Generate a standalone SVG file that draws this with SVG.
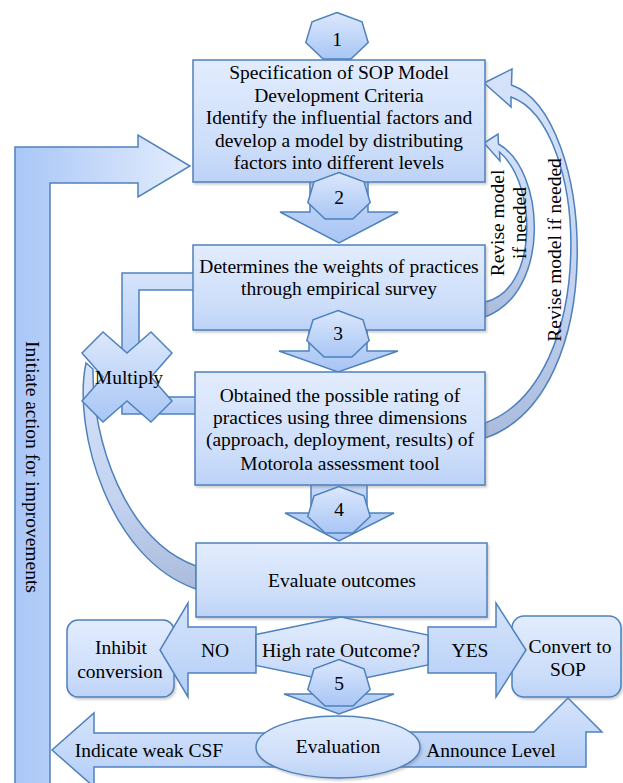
<svg xmlns="http://www.w3.org/2000/svg" xmlns:xlink="http://www.w3.org/1999/xlink" width="623" height="783" viewBox="0 0 623 783">
<style>
.s{stroke:#4f81bd;stroke-width:1.5;stroke-linejoin:miter}
.box{fill:url(#boxG);filter:url(#sh)}
.hep{fill:url(#hepG)}
.dn{fill:url(#dnG)}
.cr{fill:url(#crG)}
.blk{fill:url(#blkG)}
.t{font-family:"Liberation Serif","Times New Roman",serif;font-size:19.5px;fill:#000;text-anchor:middle;dominant-baseline:central}
</style>
<defs>
<linearGradient id="boxG" x1="0" y1="0" x2="0" y2="1"><stop offset="0" stop-color="#e2ecfd"/><stop offset="0.7" stop-color="#cddefa"/><stop offset="1" stop-color="#bcd2f7"/></linearGradient>
<linearGradient id="hepG" x1="0" y1="0" x2="0" y2="1"><stop offset="0" stop-color="#dce8fc"/><stop offset="1" stop-color="#a9c6f5"/></linearGradient>
<linearGradient id="dnG" x1="0" y1="0" x2="0" y2="1"><stop offset="0" stop-color="#c9dbf9"/><stop offset="1" stop-color="#a8c5f4"/></linearGradient>
<linearGradient id="blkG" x1="0" y1="0" x2="0" y2="1"><stop offset="0" stop-color="#d6e4fb"/><stop offset="1" stop-color="#b3cdf7"/></linearGradient>
<linearGradient id="crG" x1="0" y1="0" x2="0" y2="1"><stop offset="0" stop-color="#d6e3fa"/><stop offset="0.6" stop-color="#c3d3f0"/><stop offset="1" stop-color="#aabbdc"/></linearGradient>
<linearGradient id="initG" gradientUnits="userSpaceOnUse" x1="15" y1="0" x2="190" y2="0"><stop offset="0" stop-color="#a9c7f7"/><stop offset="0.2" stop-color="#b5cef8"/><stop offset="1" stop-color="#e3edfd"/></linearGradient>
<filter id="sh" x="-5%" y="-5%" width="115%" height="120%"><feDropShadow dx="1.5" dy="2" stdDeviation="1.2" flood-color="#777" flood-opacity="0.35"/></filter>
<polygon id="hept" points="0,-24.5 25,-15.3 31.2,5.5 13.9,22.1 -13.9,22.1 -31.2,5.5 -25,-15.3"/>
</defs>

<g id="inhibit">
<rect class="s box" x="67" y="620" width="107" height="77" rx="11"/>
<text class="t" x="121" y="647">Inhibit</text>
<text class="t" x="120" y="671">conversion</text>
</g>
<g id="convert">
<rect class="s box" x="512" y="616" width="109" height="81" rx="12"/>
<text class="t" x="570" y="646">Convert to</text>
<text class="t" x="568" y="669">SOP</text>
</g>

<g id="connectors">
<path class="s" fill="url(#initG)" d="M15,790 L15,147 L138,147 L138,135 L190,166 L138,197 L138,183 L50,183 L50,790 Z"/>
<path class="s blk" d="M195,273 L122,273 L122,360 L139,360 L139,290 L195,290 Z"/>
<path class="s blk" d="M197,397 L139,397 L139,385 L122,385 L122,414 L197,414 Z"/>
<path class="s cr" d="M86,363 C72,430 110,560 196,589 L196,566 C125,540 92,440 93,369 Z"/>
<path class="s cr" d="M484,83 L512,69 L511.5,85 C595,115 612,395 485,438 L485,423 C600,380 590,125 511,97 L511,107 Z"/>
<path class="s cr" d="M484,143 L498,134 L498.5,144 C545,170 552,292 485,317 L485,302 C538,290 538,185 499.5,152 L500,161 Z"/>
<path class="s dn" d="M310,180 L368,180 L368,212 L398,212 L339,243 L280,212 L310,212 Z"/>
<path class="s dn" d="M309,325 L367,325 L367,351 L398,351 L338,372 L279,351 L309,351 Z"/>
<path class="s dn" d="M311,480 L367,480 L367,513 L394,513 L339,541 L285,513 L311,513 Z"/>
<path class="s dn" d="M315,683 L363,683 L363,694 L394,694 L339,714 L284,694 L315,694 Z"/>
<path class="s blk" d="M256,627 L188,627 L188,603 L160,650 L188,697 L188,673 L256,673 Z"/>
<path class="s blk" d="M428,627 L496,627 L496,603 L526,650 L496,697 L496,673 L428,673 Z"/>
<path class="s blk" d="M300,733 L94,733 L94,713 L52,750 L94,787 L94,767 L300,767 Z"/>
<path class="s blk" d="M380,732 L534,732 L568,698 L602,732 L586,732 L586,767 L380,767 Z"/>
<text class="t" transform="translate(32,467) rotate(90)">Initiate action for improvements</text>
<text class="t" transform="translate(554,250) rotate(-90)">Revise model if needed</text>
<text class="t" transform="translate(497,223) rotate(-90)">Revise model</text>
<text class="t" transform="translate(519,223) rotate(-90)">if needed</text>
<text class="t" x="215" y="650">NO</text>
<text class="t" x="470" y="650">YES</text>
<text class="t" x="149" y="750">Indicate weak CSF</text>
<text class="t" x="491" y="750">Announce Level</text>
</g>

<g id="box1">
<rect class="s box" x="193" y="60" width="292" height="122"/>
<text class="t" x="339" y="72">Specification of SOP Model</text>
<text class="t" x="339" y="95">Development Criteria</text>
<text class="t" x="339" y="117">Identify the influential factors and</text>
<text class="t" x="339" y="140">develop a model by distributing</text>
<text class="t" x="339" y="162">factors into different levels</text>
</g>
<g id="box2">
<rect class="s box" x="193" y="245" width="292" height="85"/>
<text class="t" x="339" y="266">Determines the weights of practices</text>
<text class="t" x="339" y="288">through empirical survey</text>
</g>
<g id="box3">
<rect class="s box" x="195" y="372" width="290" height="113"/>
<text class="t" x="340" y="395">Obtained the possible rating of</text>
<text class="t" x="340" y="417">practices using three dimensions</text>
<text class="t" x="340" y="439">(approach, deployment, results) of</text>
<text class="t" x="340" y="463">Motorola assessment tool</text>
</g>
<g id="box4">
<rect class="s box" x="196" y="543" width="291" height="74"/>
<text class="t" x="342" y="580">Evaluate outcomes</text>
</g>
<g id="multiply">
<polygon class="s hep" points="82,353 103,332 127,353 151,332 172,353 151,377 172,401 151,422 127,401 103,422 82,401 103,377"/>
<text class="t" x="129" y="377">Multiply</text>
</g>
<g id="decision">
<polygon class="s box" style="filter:none" points="256,634.5 341,617 428,635 428,665 341,683 256,665.5"/>
<text class="t" x="341" y="650">High rate Outcome?</text>
</g>
<g id="evaluation">
<ellipse class="s box" cx="338" cy="747" rx="82" ry="31"/>
<text class="t" x="338" y="746">Evaluation</text>
</g>
<g id="step1"><use xlink:href="#hept" class="s hep" x="337" y="37"/><text class="t" x="337" y="39">1</text></g>
<g id="step2"><use xlink:href="#hept" class="s hep" x="339" y="197"/><text class="t" x="339" y="197">2</text></g>
<g id="step3"><use xlink:href="#hept" class="s hep" x="338" y="335"/><text class="t" x="338" y="333">3</text></g>
<g id="step4"><use xlink:href="#hept" class="s hep" x="339" y="511"/><text class="t" x="339" y="509">4</text></g>
<g id="step5"><use xlink:href="#hept" class="s hep" x="339" y="684"/><text class="t" x="339" y="683">5</text></g>
</svg>
